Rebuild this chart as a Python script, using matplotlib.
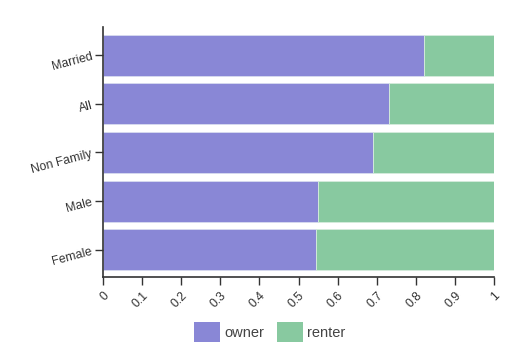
import matplotlib.pyplot as plt
from matplotlib.patches import Patch

plt.rcParams['font.family'] = ['Liberation Sans', 'DejaVu Sans']

groups = ['Married', 'All', 'Non Family', 'Male', 'Female']
owner = [0.821, 0.731, 0.69, 0.55, 0.545]
renter = [1 - v for v in owner]
xticks = [0, 0.1, 0.2, 0.3, 0.4, 0.5, 0.6, 0.7, 0.8, 0.9, 1]
xlabels = ['0', '0.1', '0.2', '0.3', '0.4', '0.5', '0.6', '0.7', '0.8', '0.9', '1']

c_owner = '#8987d6'
c_renter = '#88c9a0'
dark = '#333333'

fig = plt.figure(figsize=(5.25, 3.53), dpi=100)
ax = fig.add_axes([103 / 525, 1 - 277 / 353, 391 / 525, 250 / 353])

pos = list(range(len(groups)))
ax.barh(pos, owner, height=0.84, color=c_owner, edgecolor='#d8dcef', linewidth=0.6)
ax.barh(pos, renter, left=owner, height=0.84, color=c_renter, edgecolor='#d6ecdd', linewidth=0.6)

ax.set_xlim(0, 1)
ax.set_ylim(4.56, -0.58)

ax.set_yticks(pos)
ax.set_yticklabels(groups, rotation=15, ha='right', rotation_mode='anchor')
ax.set_xticks(xticks)
ax.set_xticklabels(xlabels, rotation=45, ha='right', rotation_mode='anchor')

ax.tick_params(axis='both', colors=dark, labelcolor=dark, labelsize=8.8, length=6, width=1)
ax.tick_params(axis='x', pad=3)
ax.tick_params(axis='y', pad=2)

for s in ['top', 'right']:
    ax.spines[s].set_visible(False)
for s in ['left', 'bottom']:
    ax.spines[s].set_color(dark)
    ax.spines[s].set_linewidth(1.2)

handles = [Patch(facecolor=c_owner, label='owner'), Patch(facecolor=c_renter, label='renter')]
fig.legend(handles=handles, loc='center', bbox_to_anchor=(270 / 525, 1 - 332 / 353),
           ncol=2, frameon=False, fontsize=10.5, handlelength=1.75, handleheight=1.75,
           handletextpad=0.3, columnspacing=0.9, labelcolor='#444444')

fig.savefig('out.png', dpi=100)
